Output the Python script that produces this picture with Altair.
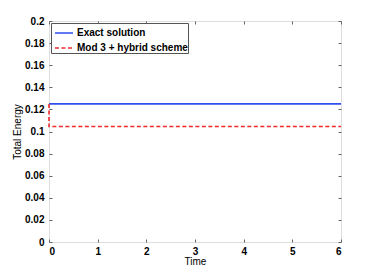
import altair as alt
import pandas as pd

series = ["Exact solution", "Mod 3 + hybrid scheme"]
exact_t = [0, 6]
exact_e = [0.125, 0.125]
mod_t = [0, 0, 6]
mod_e = [0.125, 0.1045, 0.1045]

rows = []
for i, (t, e) in enumerate(zip(exact_t, exact_e)):
    rows.append({"Time": t, "Energy": e, "Series": series[0], "idx": i})
for i, (t, e) in enumerate(zip(mod_t, mod_e)):
    rows.append({"Time": t, "Energy": e, "Series": series[1], "idx": i})
df = pd.DataFrame(rows)

xticks = [0, 1, 2, 3, 4, 5, 6]
yticks = [round(0.02 * i, 2) for i in range(11)]

xscale = alt.Scale(domain=[0, 6], nice=False, zero=False)
yscale = alt.Scale(domain=[0, 0.2], nice=False, zero=False)

tick_col = "#666666"
common_axis = dict(domain=False, grid=False, tickSize=3, tickColor=tick_col, tickWidth=1,
                   offset=-3, labelFont="Liberation Sans", labelFontWeight="bold",
                   labelFontSize=10, labelColor="black", titleFont="Liberation Sans",
                   titleFontSize=10, titleFontWeight="normal", titleColor="black")

lines = alt.Chart(df).mark_line(strokeWidth=1.6).encode(
    x=alt.X("Time:Q", scale=xscale,
            axis=alt.Axis(values=xticks, format="d", labelPadding=4, title="Time",
                          titlePadding=0, **common_axis)),
    y=alt.Y("Energy:Q", scale=yscale,
            axis=alt.Axis(values=yticks, format="~g", labelPadding=5, title="Total Energy",
                          titlePadding=2, **common_axis)),
    color=alt.Color("Series:N", scale=alt.Scale(domain=series, range=["#2f50ee", "#f02a2a"]),
                    legend=alt.Legend(title=None, orient="top-left", offset=2,
                                      fillColor="white", strokeColor="#555555",
                                      padding=0, rowPadding=-5,
                                      labelFont="Liberation Sans", labelFontWeight="bold",
                                      labelFontSize=10, labelColor="black", labelOffset=3,
                                      symbolType="stroke", symbolSize=324,
                                      symbolStrokeWidth=1.6, symbolOffset=3)),
    strokeDash=alt.StrokeDash("Series:N", scale=alt.Scale(domain=series, range=[[1, 0], [4, 2.5]]),
                              legend=alt.Legend(title=None, orient="top-left")),
    order="idx:Q",
    detail="Series:N",
)

frame = alt.Chart(df).mark_point(opacity=0).encode(
    x=alt.X("Time:Q", scale=xscale,
            axis=alt.Axis(orient="top", values=xticks, labels=False, title=None,
                          domain=False, grid=False, tickSize=3, tickColor=tick_col, offset=-3)),
    y=alt.Y("Energy:Q", scale=yscale,
            axis=alt.Axis(orient="right", values=yticks, labels=False, title=None,
                          domain=False, grid=False, tickSize=3, tickColor=tick_col, offset=-3)),
)

chart = alt.layer(lines, frame).resolve_axis(x="independent", y="independent").properties(
    width=292, height=221,
    autosize=alt.AutoSizeParams(type="none"),
    padding={"left": 41, "top": 13, "right": 27, "bottom": 24},
).configure_view(stroke="#666666", strokeWidth=1).configure(background="white")

chart.save("out.html", embed_options={"renderer": "svg", "actions": False})
